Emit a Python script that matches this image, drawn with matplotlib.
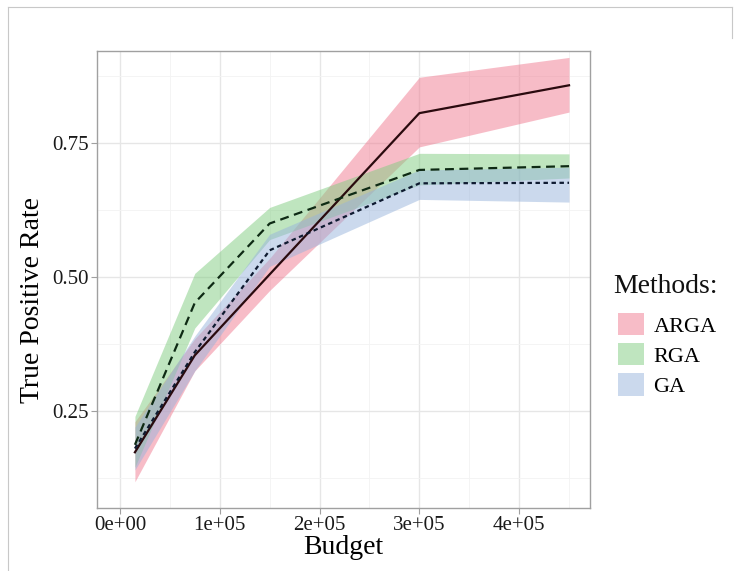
import matplotlib
matplotlib.use("Agg")
import matplotlib.pyplot as plt
from matplotlib.patches import Patch
from matplotlib.lines import Line2D
import numpy as np

plt.rcParams['font.family'] = ['Liberation Serif', 'DejaVu Serif']

budget = [15000, 75000, 150000, 300000, 450000]
methods = ["ARGA", "RGA", "GA"]
tpr = {
    "ARGA": [0.173, 0.354, 0.505, 0.806, 0.858],
    "RGA": [0.187, 0.452, 0.600, 0.700, 0.707],
    "GA": [0.180, 0.360, 0.550, 0.675, 0.676],
}
lower = {
    "ARGA": [0.118, 0.325, 0.475, 0.743, 0.808],
    "RGA": [0.145, 0.405, 0.570, 0.672, 0.685],
    "GA": [0.140, 0.325, 0.520, 0.645, 0.640],
}
upper = {
    "ARGA": [0.230, 0.385, 0.535, 0.873, 0.910],
    "RGA": [0.240, 0.507, 0.630, 0.731, 0.730],
    "GA": [0.220, 0.390, 0.580, 0.700, 0.705],
}
xticks = [0, 100000, 200000, 300000, 400000]
xticklabels = ["0e+00", "1e+05", "2e+05", "3e+05", "4e+05"]
yticks = [0.25, 0.50, 0.75]
yticklabels = ["0.25", "0.50", "0.75"]

colors = {"ARGA": "#F07A90", "RGA": "#80CC80", "GA": "#98B4DC"}
linecolors = {"ARGA": "#2a0a0e", "RGA": "#0e2a14", "GA": "#0e1a30"}
styles = {"ARGA": "-", "RGA": (0, (4, 2.5)), "GA": (0, (2, 1.6))}
ALPHA = 0.5

fig = plt.figure(figsize=(7.44, 5.71), dpi=100)
W, H = 744, 571
ax = fig.add_axes([97 / W, 1 - 508 / H, (590 - 97) / W, (508 - 51) / H])

for m in methods:
    ax.fill_between(budget, lower[m], upper[m], color=colors[m], alpha=ALPHA, linewidth=0)
for m in methods:
    ax.plot(budget, tpr[m], color=linecolors[m], linestyle=styles[m], linewidth=1.6)

ax.set_xlim(-23000, 471000)
ax.set_ylim(0.069, 0.922)
ax.set_xticks(xticks)
ax.set_xticklabels(xticklabels)
ax.set_yticks(yticks)
ax.set_yticklabels(yticklabels)
ax.set_xticks([50000, 150000, 250000, 350000, 450000], minor=True)
ax.set_yticks([0.125, 0.375, 0.625, 0.875], minor=True)
ax.grid(True, which="major", color="#E6E6E6", linewidth=1.0)
ax.grid(True, which="minor", color="#F3F3F3", linewidth=0.6)
ax.set_axisbelow(True)
for s in ax.spines.values():
    s.set_color("#A0A0A0")
    s.set_linewidth(1.0)
ax.tick_params(which="major", length=4, color="#A0A0A0", labelsize=15, labelcolor="#1a1a1a", pad=2)
ax.tick_params(which="minor", length=0)
ax.set_xlabel("Budget", fontsize=20, labelpad=0)
ax.set_ylabel("True Positive Rate", fontsize=20)
ax.yaxis.set_label_coords(-0.105, 0.455)

fig.text(613 / W, 1 - 293 / H, "Methods:", fontsize=20, ha="left", va="baseline", color="#111111")
handles = [Patch(facecolor=colors[m], alpha=ALPHA, edgecolor="none") for m in methods]
leg = fig.legend(handles, methods, loc="upper left",
                 bbox_to_anchor=(618 / W, 1 - 313 / H), frameon=False,
                 fontsize=16, handlelength=1.15, handleheight=1.15,
                 labelspacing=0.3, handletextpad=0.45, borderpad=0.0, borderaxespad=0.0)

# faint outer frame
fig.add_artist(Line2D([8 / W, 732 / W], [1 - 7 / H, 1 - 7 / H], color="#C8C8C8", linewidth=0.8))
fig.add_artist(Line2D([8 / W, 8 / W], [1 - 7 / H, 0], color="#C8C8C8", linewidth=0.8))
fig.add_artist(Line2D([732 / W, 732 / W], [1 - 7 / H, 1 - 38 / H], color="#C8C8C8", linewidth=0.8))

fig.savefig("out.png", dpi=100, facecolor="white")
